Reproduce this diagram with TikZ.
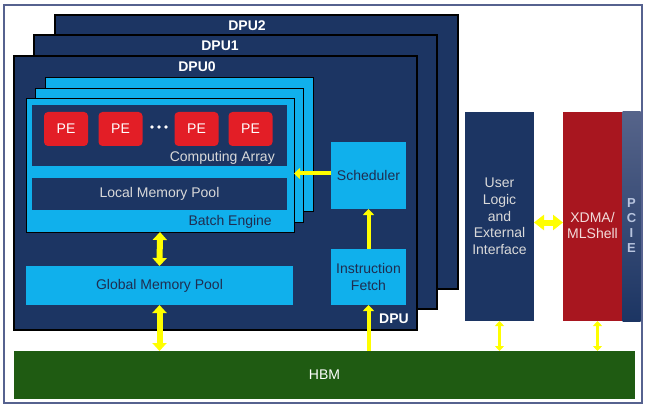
\documentclass[tikz,border=0pt]{standalone}
\usepackage{fontspec}
\setmainfont{Liberation Sans}
\usetikzlibrary{arrows.meta,positioning}

\definecolor{dpublue}{HTML}{1C3563}
\definecolor{cyanblue}{HTML}{10B0EC}
\definecolor{pered}{HTML}{E31E26}
\definecolor{xdmared}{HTML}{A8161F}
\definecolor{hbmgreen}{HTML}{1F5B12}
\definecolor{framegray}{HTML}{56628F}
\definecolor{pcietop}{HTML}{56648A}
\definecolor{arrowyellow}{HTML}{FFFF00}
\definecolor{paletext}{HTML}{D9D9D9}
\definecolor{pcietext}{HTML}{B8C4DE}
\definecolor{darktext}{HTML}{1F2D50}
\definecolor{pinktext}{HTML}{F2DCDB}

\tikzset{
  boxfont/.style={font=\fontsize{14}{16.7}\selectfont},
  blk/.style={rectangle, anchor=north west, inner sep=0pt, outer sep=0pt, boxfont, align=center},
  dpubox/.style={blk, fill=dpublue, draw=black, line width=1.2pt, minimum width=403pt, minimum height=274pt},
  batchbox/.style={blk, fill=cyanblue, draw=black, line width=1pt, minimum width=268pt, minimum height=133pt},
  darkbox/.style={blk, fill=dpublue, text=paletext, minimum width=255pt},
  cyanbox/.style={blk, fill=cyanblue, text=darktext},
  pebox/.style={rectangle, rounded corners=4pt, fill=pered, text=white, minimum width=44pt, minimum height=34pt, boxfont},
  dputitle/.style={text=white, inner sep=0pt, font=\fontsize{14}{16}\selectfont\bfseries},
  tag/.style={inner sep=0pt, anchor=base east, boxfont},
  yarrow/.style={draw=arrowyellow, line width=4pt, -{Triangle[width=11pt,length=6pt]}},
  bigarrow/.style={draw=arrowyellow, line width=6pt, {Triangle[width=14pt,length=8pt]}-{Triangle[width=14pt,length=8pt]}},
  fatarrow/.style={draw=arrowyellow, line width=6pt, {Triangle[width=15pt,length=10pt]}-{Triangle[width=15pt,length=10pt]}},
  smallarrow/.style={draw=arrowyellow, line width=3pt, {Triangle[width=9pt,length=5pt]}-{Triangle[width=9pt,length=5pt]}},
}

\begin{document}
\begin{tikzpicture}[x=1pt,y=-1pt]
\useasboundingbox (0,0) rectangle (648,409);

% board frame
\node[blk, draw=framegray, line width=1.2pt, fill=white, minimum width=638pt, minimum height=398pt] (board) at (4,5) {};

% stacked DPUs
\foreach \i/\x/\y/\tx in {2/55/15/247, 1/34/35/220, 0/14/56/197} {
  \node[dpubox] (dpu\i) at (\x,\y) {};
  \node[dputitle, anchor=base] (title\i) at (\tx,\y+16) {DPU\i};
}
\node[dputitle, anchor=base east] (dpulbl) at ([xshift=-8pt,yshift=7pt]dpu0.south east) {DPU};

% stacked batch engines
\foreach \i/\x/\y in {2/45/78, 1/35/89, 0/26/99} {
  \node[batchbox] (batch\i) at (\x,\y) {};
}
\node[tag, text=darktext] (belbl) at ([xshift=-22pt,yshift=7pt]batch0.south east) {Batch Engine};

% computing array with PEs
\node[darkbox, minimum height=61pt] (comp) at (32,105) {};
\foreach \n/\x in {1/66, 2/120.5, 3/196.5, 4/250.5} {
  \node[pebox] (pe\n) at (\x,129) {PE};
}
\foreach \x in {152,159,166} {
  \fill[white] (\x,127) circle (1.8pt);
}
\node[tag, text=paletext] (calbl) at ([xshift=-12pt,yshift=5pt]comp.south east) {Computing Array};

\node[darkbox, minimum height=32pt] (lmp) at (32,178) {Local Memory Pool};

% global memory, scheduler, fetch
\node[cyanbox, minimum width=267pt, minimum height=39pt] (gmp) at (26,266) {Global Memory Pool};
\node[cyanbox, minimum width=75pt, minimum height=67pt] (sched) at (331,142) {Scheduler};
\node[cyanbox, minimum width=75pt, minimum height=56pt] (fetch) at (331,249) {Instruction\\Fetch};

% right side blocks
\node[blk, fill=dpublue, text=paletext, minimum width=69pt, minimum height=209pt] (ulogic) at (465,112) {User\\Logic\\and\\External\\Interface};
\node[blk, fill=xdmared, minimum width=59pt, minimum height=209pt,
  label={[text=pinktext, boxfont, align=center, yshift=-9pt]center:{XDMA/\\MLShell}}] (xdma) at (563,112) {};
\node[blk, top color=pcietop, middle color=dpublue!90!pcietop, bottom color=dpublue, minimum width=18pt, minimum height=209pt,
  label={[text=pcietext, font=\fontsize{13}{15.3}\selectfont\bfseries, align=center, yshift=-9pt]center:{P\\C\\I\\E}}] (pcie) at (622.5,112) {};

% HBM
\node[blk, fill=hbmgreen, text=white, minimum width=621pt, minimum height=48pt] (hbm) at (14,351) {HBM};

% connectors
\draw[bigarrow] (batch0.south) -- (gmp.north);
\draw[bigarrow] (gmp.south) -- (gmp.south |- hbm.north);
\draw[yarrow] ([yshift=2pt]sched.west) -- ([yshift=2pt]sched.west -| batch0.east);
\draw[yarrow] (fetch.north) -- (sched.south);
\draw[yarrow] (fetch.south |- hbm.north) -- (fetch.south);
\draw[fatarrow] ([yshift=-6pt]ulogic.east) -- ([yshift=-6pt]xdma.west);
\draw[smallarrow] (ulogic.south) -- (ulogic.south |- hbm.north);
\draw[smallarrow] ([xshift=5pt]xdma.south) -- ([xshift=5pt]xdma.south |- hbm.north);

\end{tikzpicture}
\end{document}
